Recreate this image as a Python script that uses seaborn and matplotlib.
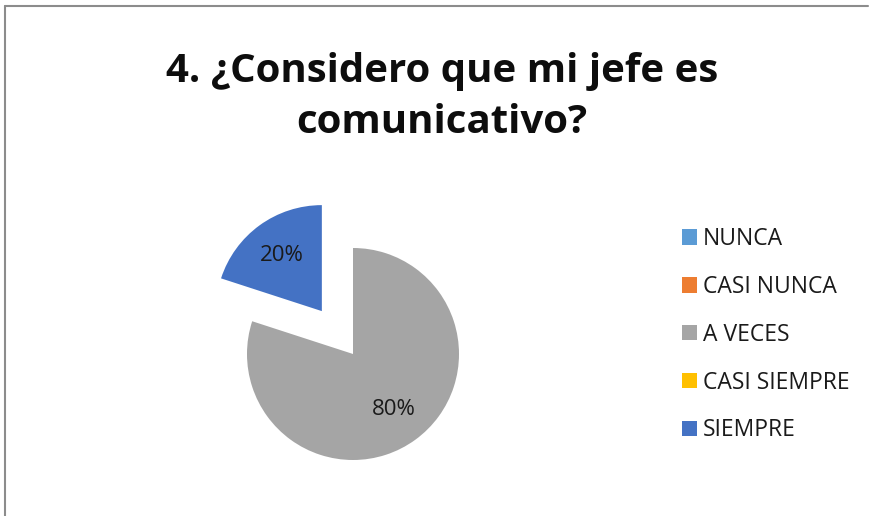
import matplotlib
matplotlib.use("Agg")
import matplotlib.pyplot as plt
import seaborn as sns
from matplotlib.lines import Line2D
from matplotlib.patches import Patch

sns.set_theme(style="white")
plt.rcParams['font.family'] = ['Open Sans', 'DejaVu Sans']

categories = ["NUNCA", "CASI NUNCA", "A VECES", "CASI SIEMPRE", "SIEMPRE"]
values = [0, 0, 80, 0, 20]
colors = ["#5B9BD5", "#ED7D31", "#A5A5A5", "#FFC000", "#4472C4"]
explode = [0, 0, 0, 0, 0.5]
title = "4. ¿Considero que mi jefe es\ncomunicativo?"

fig = plt.figure(figsize=(8.69, 5.16), dpi=100)
fig.patch.set_facecolor("white")

# frame lines (top and left)
fig.add_artist(Line2D([5/869, 868/869], [1 - 6/516, 1 - 6/516], color="#8c8c8c", lw=1.5))
fig.add_artist(Line2D([5/869, 5/869], [1 - 6/516, 0], color="#8c8c8c", lw=1.5))

R = 106
cx, cy = 353, 354
ax = fig.add_axes([(cx - 1.6 * R) / 869, 1 - (cy + 1.6 * R) / 516, 3.2 * R / 869, 3.2 * R / 516])

def fmt(p):
    return f"{p:.0f}%" if p > 0.5 else ""

wedges, texts, autotexts = ax.pie(values, colors=colors, explode=explode, startangle=90,
                                  counterclock=False, autopct=fmt, pctdistance=0.65,
                                  radius=1.0, wedgeprops=dict(linewidth=0),
                                  textprops=dict(fontsize=16, color="#1a1a1a"))
ax.set_xlim(-1.6, 1.6)
ax.set_ylim(-1.6, 1.6)
ax.set_aspect("equal")
ax.axis("off")

fig.text(442/869, 1 - 97/516, title, ha="center", va="center", fontsize=29,
         fontweight="bold", color="#0d0d0d", linespacing=1.4)

handles = [Patch(facecolor=c, edgecolor="none") for c in colors]
leg = fig.legend(handles, categories, loc="upper left", bbox_to_anchor=(673/869, 1 - 218/516),
                 frameon=False, fontsize=16.5, handlelength=0.65, handleheight=0.65,
                 handletextpad=0.25, labelspacing=1.04, borderaxespad=0)
for t in leg.get_texts():
    t.set_color("#1a1a1a")

fig.savefig("out.png", dpi=100, facecolor="white")
